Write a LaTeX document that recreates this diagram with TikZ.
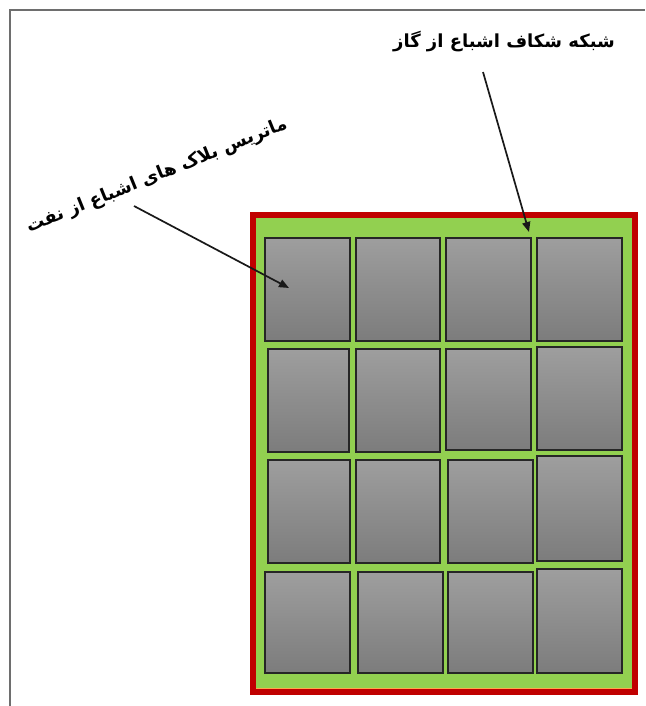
\documentclass[tikz,border=0pt]{standalone}
\usepackage{fontspec}
\usetikzlibrary{arrows.meta}
\TeXXeTstate=1
\newfontfamily\arabicfont[Script=Arabic]{DejaVu Sans}
\definecolor{frameRed}{HTML}{C00000}
\definecolor{fracGreen}{HTML}{92D050}
\definecolor{cellTop}{HTML}{9E9E9E}
\definecolor{cellBot}{HTML}{7C7C7C}
\definecolor{borderGray}{HTML}{6E6E6E}
\tikzset{
  cell/.style={draw=black!85, line width=1.9pt, top color=cellTop, bottom color=cellBot, anchor=north west, inner sep=0pt},
  lbl/.style={font=\arabicfont\bfseries\fontsize{18}{21}\selectfont, inner sep=1pt},
  pointer/.style={draw=black!90, line width=1.7pt, -{Triangle[length=10pt,width=8pt]}}
}
\begin{document}
\begin{tikzpicture}[x=1pt,y=-1pt]
\useasboundingbox (0,0) rectangle (645,706);
\fill[white] (0,0) rectangle (645,706);
% page frame
\draw[borderGray, line width=1.2pt] (10,706) -- (10,10) -- (645,10);
% fracture network
\fill[frameRed] (250,212) rectangle (638,695);
\fill[fracGreen] (256,218) rectangle (632,689);
\draw[orange!70, line width=0.6pt] (256,688.5) -- (632,688.5);
% matrix blocks, row 1
\node[cell, minimum width=85pt, minimum height=103pt] (c11) at (264,237) {};
\node[cell, minimum width=84pt, minimum height=103pt] (c12) at (355,237) {};
\node[cell, minimum width=85pt, minimum height=103pt] (c13) at (445,237) {};
\node[cell, minimum width=85pt, minimum height=103pt] (c14) at (536,237) {};
% row 2
\node[cell, minimum width=81pt, minimum height=103pt] (c21) at (267,348) {};
\node[cell, minimum width=84pt, minimum height=103pt] (c22) at (355,348) {};
\node[cell, minimum width=85pt, minimum height=101pt] (c23) at (445,348) {};
\node[cell, minimum width=85pt, minimum height=103pt] (c24) at (536,346) {};
% row 3
\node[cell, minimum width=82pt, minimum height=103pt] (c31) at (267,459) {};
\node[cell, minimum width=84pt, minimum height=103pt] (c32) at (355,459) {};
\node[cell, minimum width=85pt, minimum height=103pt] (c33) at (447,459) {};
\node[cell, minimum width=85pt, minimum height=105pt] (c34) at (536,455) {};
% row 4
\node[cell, minimum width=85pt, minimum height=101pt] (c41) at (264,571) {};
\node[cell, minimum width=85pt, minimum height=101pt] (c42) at (357,571) {};
\node[cell, minimum width=85pt, minimum height=101pt] (c43) at (447,571) {};
\node[cell, minimum width=85pt, minimum height=104pt] (c44) at (536,568) {};
% labels
\node[lbl] (gaslbl) at (504,42) {\beginR شبکه شکاف اشباع از گاز\endR};
\node[lbl, rotate=22] (oillbl) at (157,176) {\beginR ماتریس بلاک های اشباع از نفت\endR};
% pointers
\coordinate (gasstart) at (483,72);
\coordinate (gasend) at (529,232);
\coordinate (oilstart) at (134,206);
\coordinate (oilend) at (289,288);
\draw[pointer] (gasstart) -- (gasend);
\draw[pointer] (oilstart) -- (oilend);
\end{tikzpicture}
\end{document}
